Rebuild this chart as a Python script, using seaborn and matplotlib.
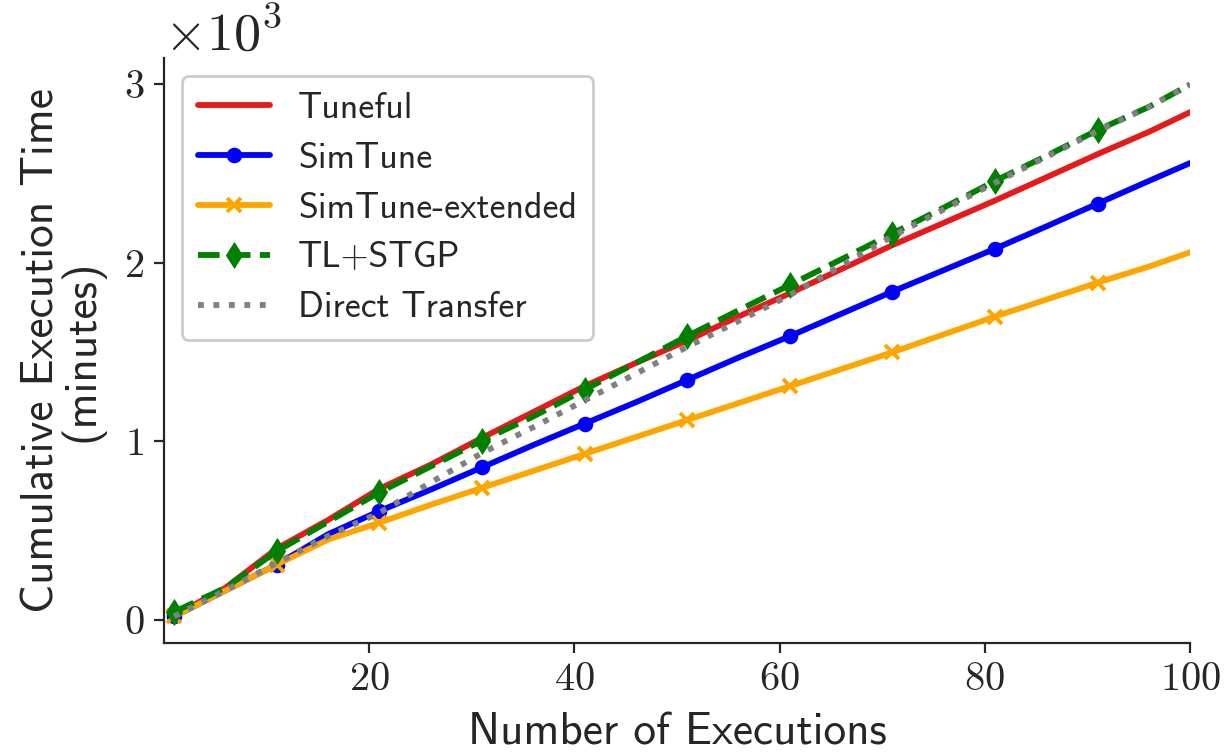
import matplotlib
matplotlib.use("Agg")
import matplotlib.pyplot as plt
import seaborn as sns
import pandas as pd

# Data (cumulative minutes)
executions = [1, 6, 11, 16, 21, 26, 31, 36, 41, 46, 51, 56, 61, 66, 71, 76, 81, 86, 91, 96, 100]

tuneful = [25, 180, 400, 560, 735, 870, 1020, 1165, 1310, 1440, 1565, 1700, 1830, 1965, 2100, 2225,
           2350, 2480, 2610, 2735, 2845]
simtune = [20, 165, 310, 480, 610, 730, 855, 980, 1100, 1220, 1345, 1470, 1590, 1715, 1840, 1960,
           2080, 2205, 2333, 2460, 2560]
simtune_ext = [20, 165, 310, 450, 545, 645, 740, 835, 930, 1025, 1120, 1215, 1310, 1405, 1500, 1600,
               1700, 1795, 1890, 1980, 2060]
tl_stgp = [45, 180, 385, 550, 715, 860, 1005, 1140, 1290, 1440, 1590, 1735, 1877, 2020, 2165, 2310,
           2460, 2600, 2745, 2875, 3000]
direct = [20, 165, 320, 470, 600, 770, 935, 1080, 1230, 1380, 1530, 1675, 1820, 1985, 2150, 2300,
          2450, 2595, 2740, 2875, 3000]

marker_idx = list(range(0, 19, 2))


def main():
    sns.set_style("ticks")
    plt.rcParams["font.family"] = ["cmss10", "DejaVu Sans"]
    plt.rcParams["mathtext.fontset"] = "cm"
    plt.rcParams["axes.formatter.use_mathtext"] = True
    plt.rcParams["axes.unicode_minus"] = False

    df = pd.DataFrame({
        "x": executions,
        "Tuneful": tuneful,
        "SimTune": simtune,
        "SimTune-extended": simtune_ext,
        "TL+STGP": tl_stgp,
        "Direct Transfer": direct,
    })

    fig, ax = plt.subplots(figsize=(6.16, 3.76), dpi=200)

    styles = [
        ("Tuneful", "#e41a1c", "-", None),
        ("SimTune", "blue", "-", "o"),
        ("SimTune-extended", "orange", "-", "x"),
        ("TL+STGP", "green", "--", "d"),
        ("Direct Transfer", "gray", ":", None),
    ]

    for name, color, ls, mk in styles:
        kw = dict(color=color, linestyle=ls, linewidth=2.1, label=name)
        if mk is not None:
            kw.update(marker=mk, markevery=marker_idx,
                      markersize={"o": 4.6, "x": 4.8, "d": 5.6}[mk],
                      markeredgewidth={"o": 1.0, "x": 1.4, "d": 1.0}[mk],
                      markeredgecolor=color, markerfacecolor=color)
        sns.lineplot(data=df, x="x", y=name, ax=ax, errorbar=None, **kw)

    ax.set_xlim(0, 100)
    ax.set_xticks([20, 40, 60, 80, 100])
    ax.set_yticks([0, 1000, 2000, 3000])
    ax.ticklabel_format(axis="y", style="sci", scilimits=(3, 3), useMathText=True)

    for lab in ax.get_xticklabels() + ax.get_yticklabels():
        lab.set_fontfamily("cmr10")
    ax.tick_params(labelsize=14.5)
    ax.yaxis.get_offset_text().set_fontsize(19.5)
    ax.yaxis.get_offset_text().set_fontfamily("cmr10")

    ax.set_xlabel("Number of Executions", fontsize=16.3, labelpad=5)
    ax.set_ylabel("Cumulative Execution Time\n(minutes)", fontsize=16.3, linespacing=0.9, labelpad=7)

    sns.despine(ax=ax)

    ax.legend(loc="upper left", fontsize=12.9, handlelength=2.0, frameon=True,
              edgecolor="#cccccc", framealpha=1, borderpad=0.45, labelspacing=0.47)

    fig.subplots_adjust(left=0.133, right=0.966, top=0.923, bottom=0.145)
    plt.savefig("out.png", dpi=200)
    plt.close()


if __name__ == "__main__":
    main()
